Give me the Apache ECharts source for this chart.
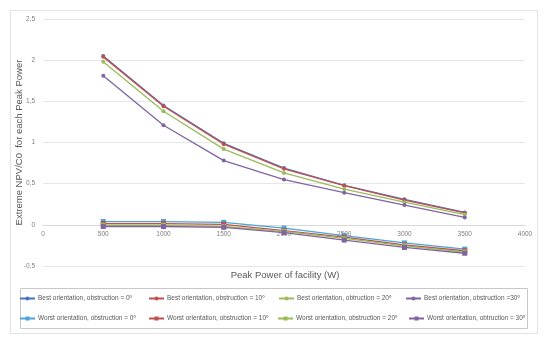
<!DOCTYPE html>
<html>
<head>
<meta charset="utf-8">
<script src="https://cdn.jsdelivr.net/npm/echarts@6/dist/echarts.min.js"></script>
<style>html,body{margin:0;padding:0;background:#fff}#c{width:550px;height:339px}</style>
</head>
<body>
<div id="c"></div>
<script>
var peakPower = [500, 1000, 1500, 2000, 2500, 3000, 3500];
var seriesNames = [
  'Best orientation, obstruction = 0º',
  'Best orientation, obstruction = 10º',
  'Best orientation, obtruction = 20º',
  'Best orientation, obstruction =30º',
  'Worst orientation, obstruction = 0º',
  'Worst orientation, obstruction = 10º',
  'Worst orientation, obstruction = 20º',
  'Worst orientation, obtruction = 30º'
];
var xAxisTitle = 'Peak Power of facility (W)';
var yAxisTitle = 'Extreme NPV/C0  for each Peak Power';
var best0  = [2.05, 1.45, 0.99, 0.69, 0.48, 0.31, 0.15];
var best10 = [2.04, 1.44, 0.98, 0.68, 0.475, 0.30, 0.145];
var best20 = [1.98, 1.38, 0.92, 0.63, 0.435, 0.275, 0.125];
var best30 = [1.81, 1.21, 0.78, 0.55, 0.39, 0.24, 0.09];
var worst0  = [0.04, 0.04, 0.03, -0.04, -0.13, -0.22, -0.295];
var worst10 = [0.015, 0.015, 0.005, -0.07, -0.15, -0.245, -0.315];
var worst20 = [-0.005, -0.005, -0.02, -0.08, -0.165, -0.255, -0.33];
var worst30 = [-0.02, -0.02, -0.03, -0.095, -0.185, -0.275, -0.345];
var xTicks = { min: 0, max: 4000, interval: 500 };
var yTicks = { min: -0.5, max: 2.5, interval: 0.5 };

var allData = [best0, best10, best20, best30, worst0, worst10, worst20, worst30];
var colors = ['#4472C4', '#C0504D', '#9BBB59', '#8064A2', '#4BA3D8', '#C0504D', '#9BBB59', '#8064A2'];
var legendPos = [
  [19, 295], [148, 295], [278, 295], [405, 295],
  [19, 315], [148, 315], [277, 315], [408, 315]
];

var gridTop = 19, gridBottom = 73, chartH = 339;
var plotH = chartH - gridTop - gridBottom;
var zeroOffset = -plotH * (0 - yTicks.min) / (yTicks.max - yTicks.min);

var series = allData.map(function (d, i) {
  var worst = i >= 4;
  return {
    name: seriesNames[i],
    type: 'line',
    data: d.map(function (v, k) { return [peakPower[k], v]; }),
    symbol: worst ? 'rect' : 'circle',
    symbolSize: worst ? 5 : 4,
    showSymbol: true,
    lineStyle: { width: 1.3, color: colors[i] },
    itemStyle: { color: colors[i] },
    z: 2 + i
  };
});

var legends = seriesNames.map(function (n, i) {
  return {
    data: [n],
    left: legendPos[i][0],
    top: legendPos[i][1],
    orient: 'horizontal',
    itemWidth: 15,
    itemHeight: 5,
    padding: 0,
    itemGap: 0,
    selectedMode: false,
    textStyle: { fontSize: 6.5, color: '#595959', fontFamily: 'Liberation Sans', padding: [0, 0, 0, -2] }
  };
});

var chart = echarts.init(document.getElementById('c'), null, { renderer: 'canvas' });
chart.setOption({
  animation: false,
  backgroundColor: '#fff',
  color: colors,
  graphic: [
    { type: 'rect', shape: { x: 10.5, y: 10.5, width: 527, height: 323 }, style: { fill: 'none', stroke: '#e3e3e3', lineWidth: 1 }, z: -10 },
    { type: 'rect', shape: { x: 20.5, y: 288.5, width: 507, height: 40 }, style: { fill: 'none', stroke: '#c8c8c8', lineWidth: 1 }, z: -10 },
    { type: 'text', x: 285, y: 275, style: { text: xAxisTitle, fontSize: 9.5, fill: '#595959', fontFamily: 'Liberation Sans', align: 'center', verticalAlign: 'middle' } }
  ],
  legend: legends,
  grid: { left: 43, right: 25, top: gridTop, bottom: gridBottom, containLabel: false },
  xAxis: {
    type: 'value',
    min: xTicks.min, max: xTicks.max, interval: xTicks.interval,
    offset: zeroOffset,
    axisLine: { show: true, onZero: false, lineStyle: { color: '#d9d9d9', width: 1 } },
    axisTick: { show: false },
    splitLine: { show: false },
    axisLabel: { fontSize: 6.5, color: '#7f7f7f', margin: 6, fontFamily: 'Liberation Sans',
      formatter: function (v) { return String(v); } }
  },
  yAxis: {
    type: 'value',
    min: yTicks.min, max: yTicks.max, interval: yTicks.interval,
    name: yAxisTitle,
    nameLocation: 'middle',
    nameGap: 19,
    nameMoveOverlap: false,
    nameTextStyle: { fontSize: 9.5, color: '#595959', fontFamily: 'Liberation Sans' },
    axisLine: { show: false },
    axisTick: { show: false },
    splitLine: { show: true, lineStyle: { color: '#e6e6e6', width: 1 } },
    axisLabel: {
      fontSize: 6.5, color: '#7f7f7f', margin: 8, fontFamily: 'Liberation Sans',
      formatter: function (v) { return String(Math.round(v * 10) / 10).replace('.', ','); }
    }
  },
  series: series
});
</script>
</body>
</html>
